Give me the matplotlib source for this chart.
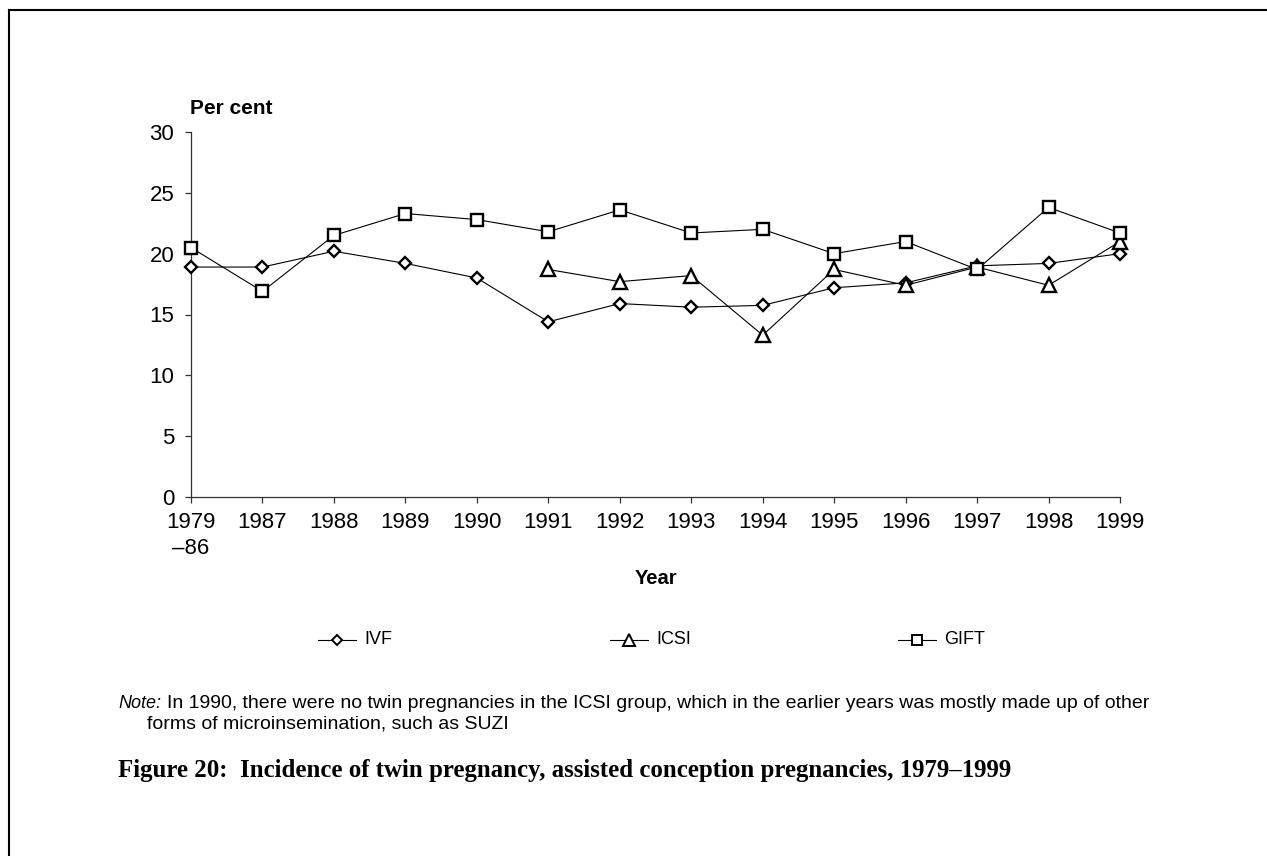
import matplotlib
matplotlib.use("Agg")
import matplotlib.pyplot as plt
from matplotlib.lines import Line2D
import numpy as np

plt.rcParams['font.family'] = ['Liberation Sans', 'DejaVu Sans']

categories = ['1979\n\u201386', '1987', '1988', '1989', '1990', '1991', '1992',
              '1993', '1994', '1995', '1996', '1997', '1998', '1999']
ivf = [18.9, 18.9, 20.2, 19.2, 18.0, 14.4, 15.9, 15.6, 15.75, 17.2, 17.6, 19.0, 19.2, 20.0]
icsi = [np.nan, np.nan, np.nan, np.nan, np.nan, 18.7, 17.7, 18.2, 13.3, 18.7, 17.4, 18.9, 17.4, 21.0]
gift = [20.5, 16.9, 21.5, 23.3, 22.8, 21.8, 23.6, 21.7, 22.0, 20.0, 21.0, 18.7, 23.8, 21.7]
series_names = ['IVF', 'ICSI', 'GIFT']
series_markers = ['D', '^', 's']
y_ticks = [0, 5, 10, 15, 20, 25, 30]

W, H = 1267, 856
fig = plt.figure(figsize=(W / 100, H / 100), dpi=100)

def fx(px):
    return px / W

def fy(py):
    return 1 - py / H

ax = fig.add_axes([fx(191), fy(497), fx(1120) - fx(191), fy(132) - fy(497)])
x = np.arange(len(categories))

msizes = {'D': 6.2, '^': 9.5, 's': 8.5}
common = dict(color='black', lw=0.8, mfc='white', mec='black', mew=1.7, clip_on=False)
for vals, m, z in zip([ivf, icsi, gift], series_markers, [3, 4, 5]):
    ax.plot(x, vals, marker=m, ms=msizes[m], zorder=z, **common)

ax.set_xlim(0, len(categories) - 1)
ax.set_ylim(0, 30)
ax.set_xticks(x)
ax.set_xticklabels(categories, fontsize=16, linespacing=1.3)
ax.set_yticks(y_ticks)
ax.set_yticklabels([str(v) for v in y_ticks], fontsize=16)
for s in ['top', 'right']:
    ax.spines[s].set_visible(False)
for s in ['left', 'bottom']:
    ax.spines[s].set_linewidth(0.9)
    ax.spines[s].set_color('#333333')
ax.tick_params(axis='both', direction='out', length=4, width=0.9, color='#333333')
ax.tick_params(axis='x', pad=7)
ax.tick_params(axis='y', pad=8)

fig.text(fx(190), fy(109), 'Per cent', fontsize=15, fontweight='bold', ha='left', va='center')
fig.text(fx(656), fy(578), 'Year', fontsize=14.5, fontweight='bold', ha='center', va='center')

# legend drawn as handle + label triples
leg_y = fy(640)
leg_starts = [318, 610, 898]
for name, m, x0 in zip(series_names, series_markers, leg_starts):
    fig.add_artist(Line2D([fx(x0), fx(x0 + 38)], [leg_y, leg_y], color='black', lw=0.8,
                          transform=fig.transFigure))
    fig.add_artist(Line2D([fx(x0 + 19)], [leg_y], marker=m, ms=msizes[m] * 0.9, mfc='white',
                          mec='black', mew=1.4, color='black', transform=fig.transFigure))
    fig.text(fx(x0 + 46), leg_y, name, fontsize=13, ha='left', va='center')

fig.text(fx(118), fy(703), 'Note:', fontsize=13, fontstyle='italic', ha='left', va='center')
fig.text(fx(167), fy(703),
         'In 1990, there were no twin pregnancies in the ICSI group, which in the earlier years was mostly made up of other',
         fontsize=14, ha='left', va='center')
fig.text(fx(147), fy(724), 'forms of microinsemination, such as SUZI', fontsize=14, ha='left', va='center')

fig.text(fx(118), fy(771),
         'Figure 20:  Incidence of twin pregnancy, assisted conception pregnancies, 1979\u20131999',
         fontsize=17.9, fontweight='bold', family=['Liberation Serif', 'DejaVu Serif'],
         ha='left', va='center')

fig.add_artist(Line2D([fx(9), 1.0], [fy(10), fy(10)], color='black', lw=1.5, transform=fig.transFigure))
fig.add_artist(Line2D([fx(9), fx(9)], [fy(10), 0.0], color='black', lw=1.5, transform=fig.transFigure))

fig.savefig('out.png', dpi=100)
